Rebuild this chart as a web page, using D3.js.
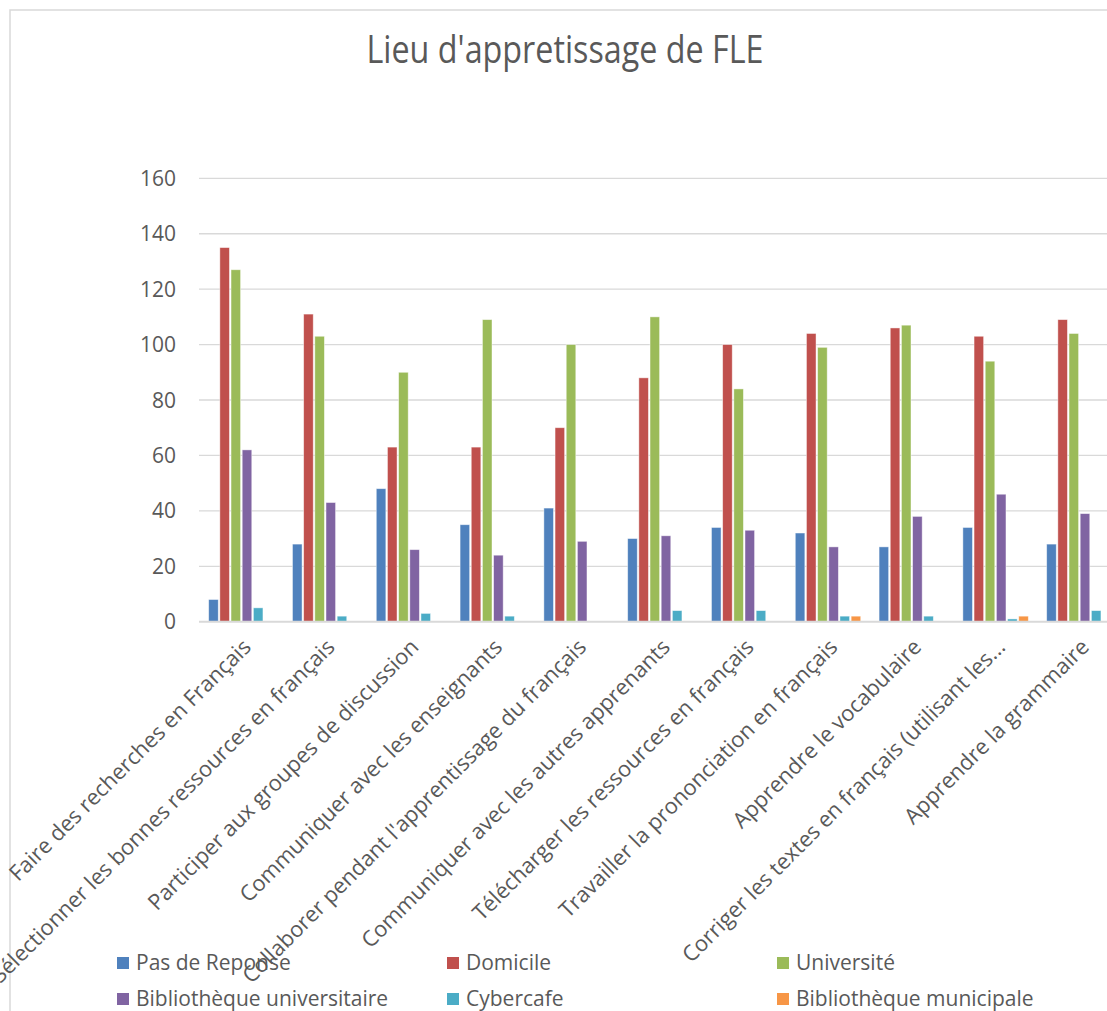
<!DOCTYPE html>
<html>
<head>
<meta charset="utf-8">
<script src="https://cdn.jsdelivr.net/npm/d3@7/dist/d3.min.js"></script>
<style>
  html, body { margin: 0; padding: 0; background: #fff; }
  svg { display: block; }
  text { font-family: "Open Sans", "DejaVu Sans", sans-serif; fill: #595959; }
</style>
</head>
<body>
<svg id="chart" width="1107" height="1011"></svg>
<script>
const title = "Lieu d'appretissage de FLE";
const categories = [
  "Faire des recherches en Français",
  "Sélectionner les bonnes ressources en français",
  "Participer aux groupes de discussion",
  "Communiquer avec les enseignants",
  "Collaborer pendant l'apprentissage du français",
  "Communiquer avec les autres apprenants",
  "Télécharger les ressources en français",
  "Travailler la prononciation en français",
  "Apprendre le vocabulaire",
  "Corriger les textes en français (utilisant les...",
  "Apprendre la grammaire"
];
const seriesNames = ["Pas de Reponse", "Domicile", "Université", "Bibliothèque universitaire", "Cybercafe", "Bibliothèque municipale"];
const seriesColors = ["#4F81BD", "#C0504D", "#9BBB59", "#8064A2", "#4BACC6", "#F79646"];
const pasDeReponse = [8, 28, 48, 35, 41, 30, 34, 32, 27, 34, 28];
const domicile     = [135, 111, 63, 63, 70, 88, 100, 104, 106, 103, 109];
const universite   = [127, 103, 90, 109, 100, 110, 84, 99, 107, 94, 104];
const bibUniv      = [62, 43, 26, 24, 29, 31, 33, 27, 38, 46, 39];
const cybercafe    = [5, 2, 3, 2, 0, 4, 4, 2, 2, 1, 4];
const bibMunicipale= [0, 0, 0, 0, 0, 0, 0, 2, 0, 2, 0];
const yTicks = [0, 20, 40, 60, 80, 100, 120, 140, 160];

const seriesValues = [pasDeReponse, domicile, universite, bibUniv, cybercafe, bibMunicipale];

const svg = d3.select("#chart");

// chart border (left and top visible)
svg.append("rect")
  .attr("x", 10).attr("y", 10)
  .attr("width", 1300).attr("height", 1200)
  .attr("fill", "#fff")
  .attr("stroke", "#d9d9d9").attr("stroke-width", 1.5);

const x0 = d3.scaleBand()
  .domain(categories)
  .range([200, 1121.8])
  .paddingInner(0.2)
  .paddingOuter(0.1);

const x1 = d3.scaleBand()
  .domain(seriesNames)
  .range([0, x0.bandwidth()]);

const y = d3.scaleLinear().domain([0, 160]).range([621.7, 178.3]);

// gridlines
svg.append("g").selectAll("line")
  .data(yTicks.filter(t => t !== 0))
  .join("line")
  .attr("x1", 199).attr("x2", 1130)
  .attr("y1", d => y(d)).attr("y2", d => y(d))
  .attr("stroke", "#d9d9d9").attr("stroke-width", 1.3);

// y tick labels
svg.append("g").selectAll("text")
  .data(yTicks)
  .join("text")
  .attr("x", 176)
  .attr("y", d => y(d))
  .attr("dy", "0.36em")
  .attr("text-anchor", "end")
  .attr("font-size", 21)
  .text(d => d);

// bars
const groups = svg.append("g").selectAll("g")
  .data(categories.map((c, i) => ({ c, i })))
  .join("g")
  .attr("transform", d => `translate(${x0(d.c)},0)`);

groups.selectAll("rect")
  .data(d => seriesNames.map((s, k) => ({ s, k, v: seriesValues[k][d.i] })))
  .join("rect")
  .attr("x", d => x1(d.s) + 0.3)
  .attr("width", x1.bandwidth() - 1.6)
  .attr("y", d => y(d.v))
  .attr("height", d => y(0) - y(d.v))
  .attr("fill", d => seriesColors[d.k])
  .attr("stroke", "#ffffff")
  .attr("stroke-opacity", 0.55)
  .attr("stroke-width", 0.8);

// x axis line
svg.append("line")
  .attr("x1", 199).attr("x2", 1130)
  .attr("y1", y(0)).attr("y2", y(0))
  .attr("stroke", "#d9d9d9").attr("stroke-width", 2);

// x labels
svg.append("g").selectAll("text")
  .data(categories)
  .join("text")
  .attr("transform", d => `translate(${x0(d) + x0.bandwidth() / 2 + 5},643) rotate(-45)`)
  .attr("dy", "0.35em")
  .attr("text-anchor", "end")
  .attr("font-size", 21.8)
  .text(d => d);

// title
svg.append("text")
  .attr("x", 565).attr("y", 63)
  .attr("text-anchor", "middle")
  .attr("font-size", 38)
  .attr("textLength", 397)
  .attr("lengthAdjust", "spacingAndGlyphs")
  .text(title);

// legend
const legX = [117, 447, 777];
const legY = [957, 993];
const leg = svg.append("g").selectAll("g")
  .data(seriesNames.map((s, k) => ({ s, k })))
  .join("g")
  .attr("transform", d => `translate(${legX[d.k % 3]},${legY[Math.floor(d.k / 3)]})`);
leg.append("rect")
  .attr("width", 12).attr("height", 12)
  .attr("fill", d => seriesColors[d.k]);
leg.append("text")
  .attr("x", 19).attr("y", 13)
  .attr("font-size", 21)
  .text(d => d.s);
</script>
</body>
</html>
